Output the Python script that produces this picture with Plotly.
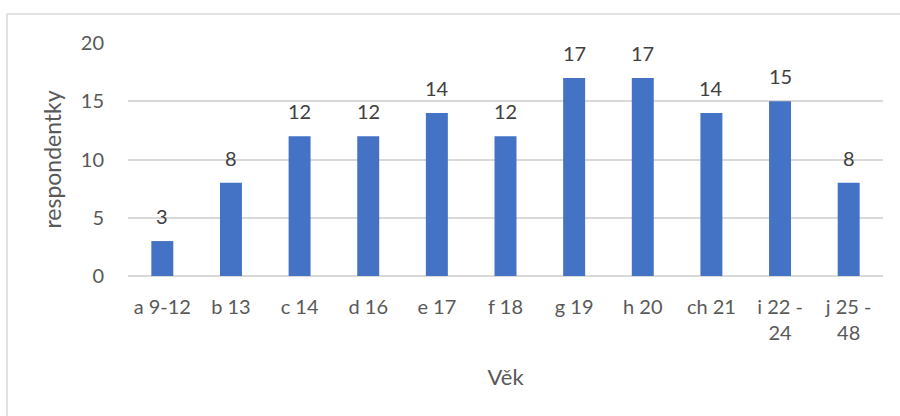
import plotly.graph_objects as go

categories = ["a 9-12", "b 13", "c 14", "d 16", "e 17", "f 18", "g 19", "h 20", "ch 21", "i 22 -<br>24", "j 25 -<br>48"]
values = [3, 8, 12, 12, 14, 12, 17, 17, 14, 15, 8]
y_ticks = [0, 5, 10, 15, 20]

FONT = "Lato"
TXT = "#595959"
GRID = "#d9d9d9"

fig = go.Figure()
fig.add_trace(go.Bar(x=categories, y=values, marker=dict(color="#4472C4", line=dict(width=0)),
                     hoverinfo="skip"))

for c, v in zip(categories, values):
    fig.add_annotation(x=c, y=v, text=str(v), showarrow=False, yanchor="bottom", yshift=11,
                       font=dict(family=FONT, size=20, color="#404040"))

L, R, T, B = 128, 17, 43, 140
pw = 900 - L - R
ph = 416 - T - B
fx0 = (7 - L) / pw
fy1 = (416 - B - 14) / ph

fig.add_shape(type="line", xref="paper", yref="paper", x0=fx0, x1=fx0, y0=-2, y1=fy1,
              line=dict(color=GRID, width=1.5))
fig.add_shape(type="line", xref="paper", yref="paper", x0=fx0, x1=2, y0=fy1, y1=fy1,
              line=dict(color=GRID, width=1.5))

fig.update_layout(
    width=900, height=416,
    margin=dict(l=L, r=R, t=T, b=B),
    paper_bgcolor="white", plot_bgcolor="white",
    bargap=0.68, showlegend=False,
    font=dict(family=FONT, size=20, color=TXT),
    xaxis=dict(type="category", showgrid=False, showline=False, ticks="", tickangle=0,
               tickfont=dict(family=FONT, size=20, color=TXT), ticklabelstandoff=17,
               title=dict(text="Věk", font=dict(family=FONT, size=22, color=TXT), standoff=26)),
    yaxis=dict(range=[0, 20], tickvals=y_ticks, showgrid=True, gridcolor=GRID, gridwidth=1.5,
               zeroline=True, zerolinecolor=GRID, zerolinewidth=1.5, showline=False, ticks="",
               tickfont=dict(family=FONT, size=20, color=TXT), ticklabelstandoff=23,
               title=dict(text="respondentky", font=dict(family=FONT, size=23, color=TXT), standoff=12)),
)

fig.write_html("out.html")
